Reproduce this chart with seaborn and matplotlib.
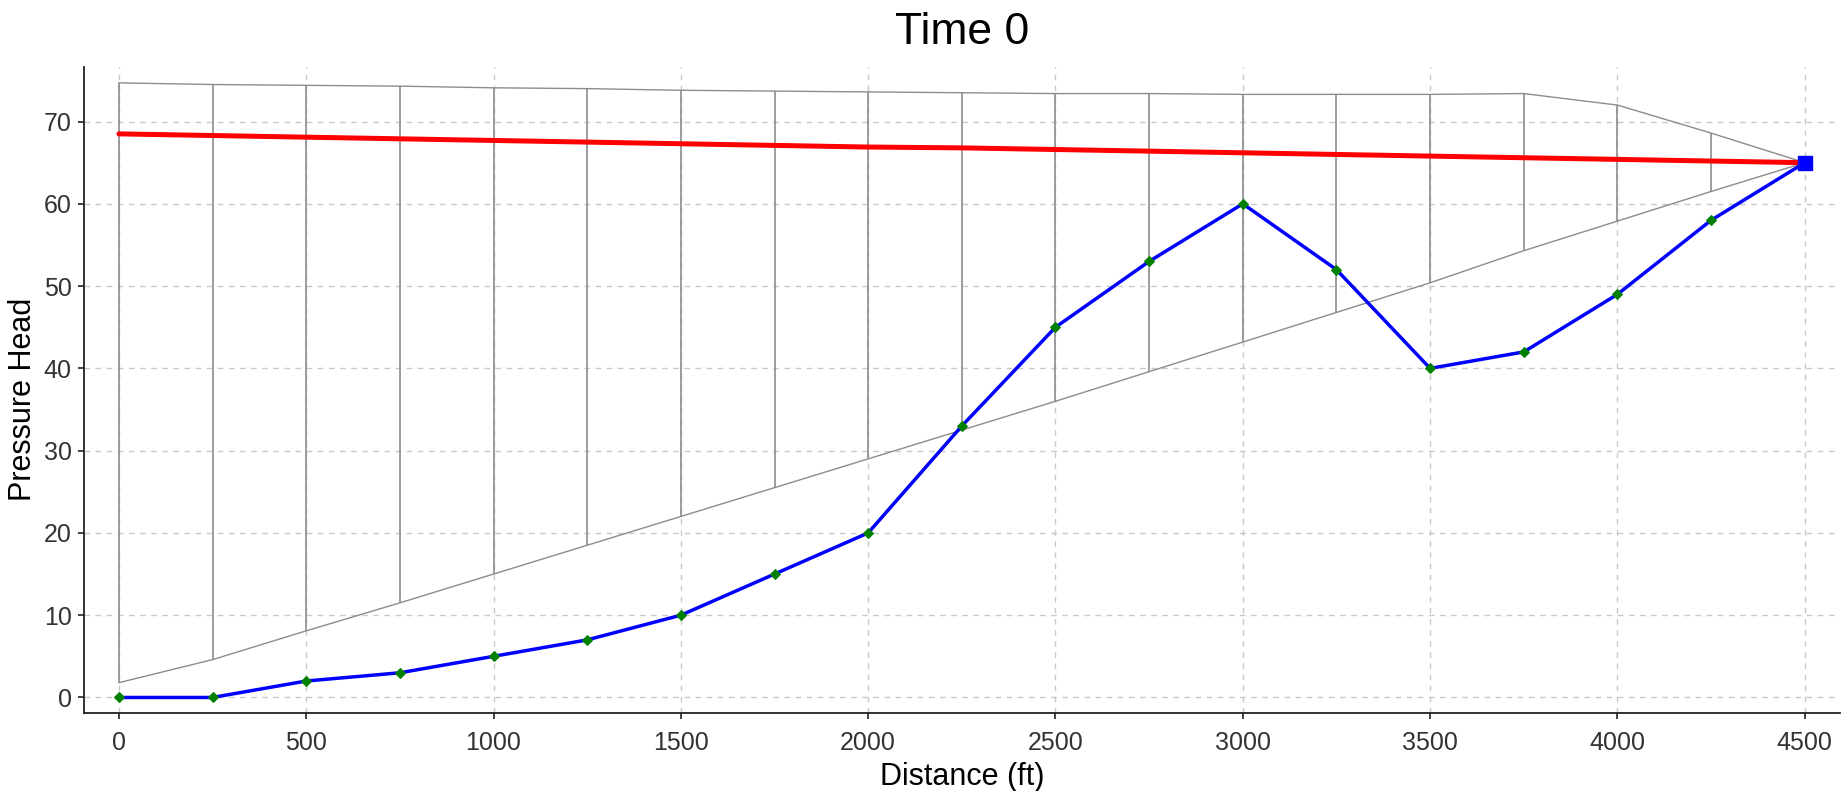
import numpy as np
import pandas as pd
import matplotlib
matplotlib.use("Agg")
from matplotlib import pyplot as plt
import seaborn as sns

# node positions along the pipe (ft)
distance = [0, 250, 500, 750, 1000, 1250, 1500, 1750, 2000, 2250,
            2500, 2750, 3000, 3250, 3500, 3750, 4000, 4250, 4500]

# pipe profile
profile = [0, 0, 2, 3, 5, 7, 10, 15, 20, 33,
           45, 53, 60, 52, 40, 42, 49, 58, 65]

# steady state head
steady = [68.5, 68.3, 68.1, 67.9, 67.7, 67.5, 67.3, 67.1, 66.9, 66.8,
          66.6, 66.4, 66.2, 66.0, 65.8, 65.6, 65.4, 65.2, 65.0]

# max / min head envelope
head_max = [74.7, 74.5, 74.4, 74.3, 74.1, 74.0, 73.8, 73.7, 73.6, 73.5,
            73.4, 73.4, 73.3, 73.3, 73.3, 73.4, 72.0, 68.6, 65.0]
head_min = [1.8, 4.6, 8.1, 11.5, 15.0, 18.5, 22.0, 25.5, 29.0, 32.5,
            36.0, 39.6, 43.2, 46.8, 50.4, 54.3, 57.9, 61.5, 65.0]

# reservoir at downstream end
res_x = [4500]
res_y = [65]

df = pd.DataFrame({"x": distance, "profile": profile, "steady": steady,
                   "hmax": head_max, "hmin": head_min})

sns.set_style("white")
plt.rcParams['font.family'] = ['Liberation Sans', 'DejaVu Sans']
plt.rcParams['xtick.labelsize'] = 18
plt.rcParams['ytick.labelsize'] = 18

fig = plt.figure(figsize=(18.44, 7.91), dpi=100)
ax = fig.add_axes([0.0456, 0.099, 0.952, 0.816])

# envelope
ax.plot(df["x"], df["hmax"], color="#8c8c8c", lw=1.0, zorder=2)
ax.plot(df["x"], df["hmin"], color="#8c8c8c", lw=1.0, zorder=2)
ax.vlines(df["x"], df["hmin"], df["hmax"], color="#8c8c8c", lw=1.2, zorder=2)

sns.lineplot(data=df, x="x", y="steady", color="#ff0000", lw=3.6, ax=ax, zorder=3)
sns.lineplot(data=df, x="x", y="profile", color="#0000ff", lw=2.5, ax=ax, zorder=4,
             marker="D", markersize=5, markerfacecolor="#008000",
             markeredgecolor="#008000")
ax.scatter(res_x, res_y, marker="s", s=110, color="#0000ff", zorder=5)

ax.set_xlim(-93, 4593)
ax.set_ylim(-1.85, 76.6)
ax.set_xticks(range(0, 4501, 500))
ax.set_yticks(range(0, 71, 10))
ax.grid(True, color="#c8c8c8", linestyle=(0, (4, 4)), lw=1.0)
ax.set_axisbelow(True)

for s in ["top", "right"]:
    ax.spines[s].set_visible(False)
for s in ["left", "bottom"]:
    ax.spines[s].set_color("#222222")
    ax.spines[s].set_linewidth(1.3)

ax.tick_params(axis="x", direction="out", length=4, width=1.2, pad=9,
               color="#222222", labelsize=18, labelcolor="#333333", bottom=True)
ax.tick_params(axis="y", direction="out", length=4, width=1.2, pad=5,
               color="#222222", labelsize=18, labelcolor="#333333", left=True)
ax.set_xlabel("Distance (ft)", fontsize=22, labelpad=5, color="black")
ax.set_ylabel("Pressure Head", fontsize=22, color="black")
ax.yaxis.set_label_coords(-0.026, 0.485)
ax.set_title("Time 0", fontsize=32, pad=17, color="black")

fig.savefig("out.png", dpi=100)
